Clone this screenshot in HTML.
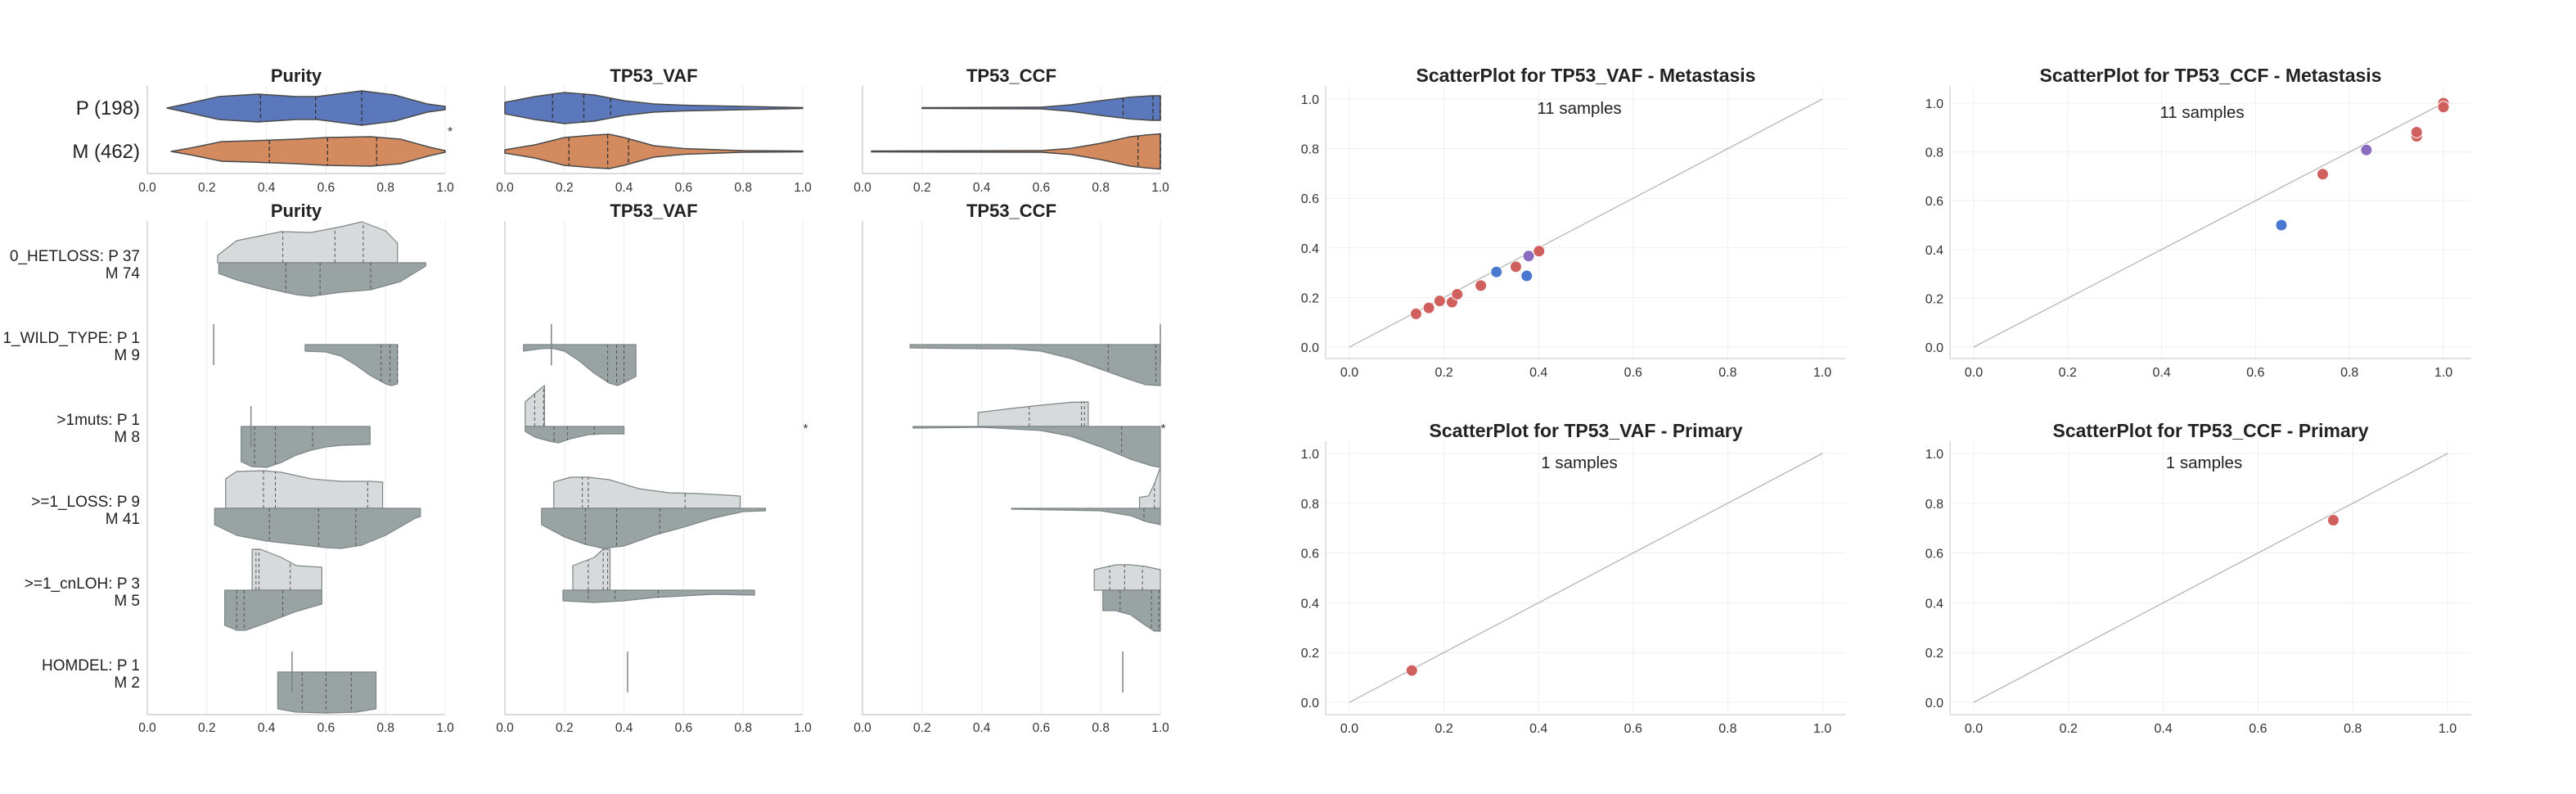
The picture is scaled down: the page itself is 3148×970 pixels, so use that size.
<!DOCTYPE html>
<html><head><meta charset="utf-8"><style>
body{margin:0;background:#fff}
svg{display:block;font-family:"Liberation Sans",sans-serif}
</style></head><body>
<svg id="chart" width="3148" height="970" viewBox="0 0 3148 970" xmlns="http://www.w3.org/2000/svg">
<g id="bg"></g>
</svg>
<script>
// ---------- DATA ----------
const ticks = [0, 0.2, 0.4, 0.6, 0.8, 1.0];
const tickLabels = ["0.0","0.2","0.4","0.6","0.8","1.0"];
const topTitles = ["Purity","TP53_VAF","TP53_CCF"];
const topGroups = ["P (198)","M (462)"];
const topPurityP_x = [0.066,0.13,0.24,0.37,0.5,0.57,0.72,0.83,0.94,1.0];
const topPurityP_h = [0,5,14,17,14,14,21,16,5,2];
const topPurityP_q = [0.38,0.565,0.72];
const topPurityM_x = [0.08,0.15,0.25,0.35,0.5,0.6,0.75,0.85,0.95,1.0];
const topPurityM_h = [0,4.5,12,13,15,17,18,15,5,1];
const topPurityM_q = [0.41,0.605,0.77];
const topVafP_x = [0,0.1,0.2,0.3,0.4,0.5,0.6,0.8,1.0];
const topVafP_h = [7,14,19,16,9,5,3.5,2,0.5];
const topVafP_q = [0.16,0.265,0.355];
const topVafM_x = [0,0.1,0.2,0.3,0.35,0.4,0.5,0.6,0.8,1.0];
const topVafM_h = [2,8,17,20,21,17,7,3.5,1,0.5];
const topVafM_q = [0.215,0.345,0.415];
const topCcfP_x = [0.2,0.6,0.7,0.8,0.9,0.97,1.0];
const topCcfP_h = [0.5,1,4,9,13.4,15,15];
const topCcfP_q = [0.875,0.975,1.0];
const topCcfM_x = [0.03,0.6,0.7,0.8,0.9,0.95,1.0];
const topCcfM_h = [0.5,1,3.7,10,18,20,21.5];
const topCcfM_q = [0.925,1.0,1.0];

const rowLabels1 = ["0_HETLOSS: P 37","1_WILD_TYPE: P 1",">1muts: P 1",">=1_LOSS: P 9",">=1_cnLOH: P 3","HOMDEL: P 1"];
const rowLabels2 = ["M 74","M 9","M 8","M 41","M 5","M 2"];

const s_hetP_pur_x=[0.236,0.3,0.45,0.55,0.65,0.72,0.8,0.84], s_hetP_pur_h=[9,27,38,37,44,50,39,24], s_hetP_pur_q=[0.455,0.63,0.725];
const s_hetM_pur_x=[0.24,0.3,0.4,0.5,0.55,0.65,0.75,0.85,0.935], s_hetM_pur_h=[13,21,31,39,41,36,33,23,4], s_hetM_pur_q=[0.465,0.58,0.75];
const s_wtM_pur_x=[0.53,0.6,0.65,0.7,0.75,0.8,0.82,0.84], s_wtM_pur_h=[8,9,14,25,38,48,50,48], s_wtM_pur_q=[0.785,0.815,0.84];
const s_wtM_vaf_x=[0.0625,0.12,0.16,0.2,0.25,0.3,0.35,0.38,0.44], s_wtM_vaf_h=[8,5,4.5,8,20,35,47,50,39], s_wtM_vaf_q=[0.345,0.375,0.4];
const s_wtM_ccf_x=[0.16,0.4,0.5,0.6,0.7,0.8,0.9,0.95,1.0], s_wtM_ccf_h=[4,5,5,8,17,30,43,49,50], s_wtM_ccf_q=[0.825,0.985];
const s_muM_pur_x=[0.315,0.35,0.4,0.45,0.5,0.55,0.6,0.65,0.748], s_muM_pur_h=[43,49,50,44,35,29,25,23,22], s_muM_pur_q=[0.36,0.43,0.555];
const s_muP_vaf_x=[0.068,0.1,0.133], s_muP_vaf_h=[30,40,50], s_muP_vaf_q=[0.1,0.13];
const s_muM_vaf_x=[0.068,0.1,0.15,0.18,0.22,0.28,0.33,0.4], s_muM_vaf_h=[6,13,18,20,15,10,9,9], s_muM_vaf_q=[0.165,0.21,0.3];
const s_muP_ccf_x=[0.388,0.5,0.6,0.7,0.758], s_muP_ccf_h=[17,22,26,29.5,30], s_muP_ccf_q=[0.56,0.735,0.745];
const s_muM_ccf_x=[0.17,0.4,0.6,0.7,0.8,0.9,0.97,1.0], s_muM_ccf_h=[2,1,5,12,25,40,48,50], s_muM_ccf_q=[0.87];
const s_loP_pur_x=[0.263,0.3,0.39,0.45,0.55,0.65,0.75,0.79], s_loP_pur_h=[36,45,46,44,36,33,33,32], s_loP_pur_q=[0.39,0.43,0.74];
const s_loM_pur_x=[0.226,0.3,0.4,0.5,0.6,0.65,0.72,0.8,0.9,0.917], s_loM_pur_h=[20,33,40,44,48,49,45,33,12,10], s_loM_pur_q=[0.41,0.575,0.7];
const s_loP_vaf_x=[0.164,0.22,0.28,0.35,0.45,0.55,0.65,0.75,0.79], s_loP_vaf_h=[32,38,38,35,24,19,18,16,15], s_loP_vaf_q=[0.26,0.28,0.605];
const s_loM_vaf_x=[0.123,0.2,0.27,0.33,0.4,0.5,0.6,0.7,0.8,0.875], s_loM_vaf_h=[20,35,44,49,46,33,23,12,4,3], s_loM_vaf_q=[0.27,0.375,0.52];
const s_loP_ccf_x=[0.93,0.96,0.98,1.0], s_loP_ccf_h=[13.4,15,30,50], s_loP_ccf_q=[0.98];
const s_loM_ccf_x=[0.5,0.8,0.9,0.95,1.0], s_loM_ccf_h=[1,3,9,16,20], s_loM_ccf_q=[0.945];
const s_cnP_pur_x=[0.352,0.38,0.45,0.5,0.586], s_cnP_pur_h=[50,50,40,30,28], s_cnP_pur_q=[0.365,0.375,0.48];
const s_cnM_pur_x=[0.26,0.3,0.33,0.4,0.45,0.5,0.586], s_cnM_pur_h=[43,49,49,40,33,26,17], s_cnM_pur_q=[0.3,0.325,0.455];
const s_cnP_vaf_x=[0.228,0.3,0.33,0.353], s_cnP_vaf_h=[30,40,50,50], s_cnP_vaf_q=[0.28,0.33,0.345];
const s_cnM_vaf_x=[0.195,0.3,0.4,0.5,0.6,0.7,0.838], s_cnM_vaf_h=[13,15,13,9,7,5,6], s_cnM_vaf_q=[0.28,0.37,0.515];
const s_cnP_ccf_x=[0.778,0.85,0.9,0.95,1.0], s_cnP_ccf_h=[25,31,31,29,25], s_cnP_ccf_q=[0.83,0.88,0.94];
const s_cnM_ccf_x=[0.807,0.85,0.9,0.95,0.98,1.0], s_cnM_ccf_h=[25,25,30,43,50,50], s_cnM_ccf_q=[0.865,0.97,0.995];
const s_hoM_pur_x=[0.438,0.5,0.6,0.7,0.768], s_hoM_pur_h=[45,49,50,49,45], s_hoM_pur_q=[0.52,0.6,0.685];
const stickPanels=[0,1,2,0,0,1,2];
const stickRows  =[1,1,1,2,5,5,5];
const stickVals  =[0.223,0.156,1.0,0.348,0.486,0.412,0.874];

const scTitles=["ScatterPlot for TP53_VAF - Metastasis","ScatterPlot for TP53_CCF - Metastasis","ScatterPlot for TP53_VAF - Primary","ScatterPlot for TP53_CCF - Primary"];
const scCounts=["11 samples","11 samples","1 samples","1 samples"];
const sc1_x=[0.141,0.168,0.191,0.217,0.228,0.278,0.352,0.401,0.311,0.375,0.379];
const sc1_y=[0.134,0.158,0.186,0.181,0.213,0.248,0.324,0.387,0.303,0.287,0.367];
const sc1_c=["r","r","r","r","r","r","r","r","b","b","p"];
const sc2_x=[0.743,0.836,0.943,0.943,1.0,1.0,1.0,1.0,0.943,0.743,0.655];
const sc2_y=[0.709,0.808,0.881,0.864,1.0,0.984,1.0,0.984,0.881,0.709,0.5];
const sc2_c=["r","p","r","r","r","r","r","r","r","r","b"];
const sc3_x=[0.132], sc3_y=[0.128], sc3_c=["r"];
const sc4_x=[0.759], sc4_y=[0.732], sc4_c=["r"];

// ---------- DRAW ----------
const NS="http://www.w3.org/2000/svg";
const svg=document.getElementById('chart');
function mk(tag,attrs,parent){const e=document.createElementNS(NS,tag);for(const k in attrs)e.setAttribute(k,attrs[k]);(parent||svg).appendChild(e);return e;}
function txt(s,attrs,parent){const e=mk('text',attrs,parent);e.textContent=s;return e;}

const panelX0=[180,617,1054], panelW=364;
const px=(p,v)=>panelX0[p]+v*panelW;
const rowY=r=>321+r*100;
function interp(xs,hs,v){if(v<=xs[0])return hs[0];for(let i=1;i<xs.length;i++){if(v<=xs[i]){const t=(v-xs[i-1])/(xs[i]-xs[i-1]);return hs[i-1]+t*(hs[i]-hs[i-1]);}}return hs[hs.length-1];}

for(let p=0;p<3;p++){
  const g=mk('g',{});
  
  
  ticks.forEach(t=>{const l=mk('line',{x1:px(p,t),x2:px(p,t),y1:105,y2:212,stroke:'#ebebeb','stroke-width':1},g);});
  mk('line',{x1:px(p,0),x2:px(p,0),y1:105,y2:212,stroke:'#d0d0d0','stroke-width':1.5},g);
  mk('line',{x1:px(p,0),x2:px(p,1),y1:212,y2:212,stroke:'#d0d0d0','stroke-width':1.5},g);
  ticks.forEach((t,i)=>{const e=txt(tickLabels[i],{x:px(p,t),y:234,'text-anchor':'middle','font-size':15.5,fill:'#333'},g);});
  const tt=txt(topTitles[p],{x:px(p,0.5),y:100,'text-anchor':'middle','font-size':22,'font-weight':'bold',fill:'#222'},g);
  
}
topGroups.forEach((s,i)=>{const e=txt(s,{x:171,y:(i?185:132)+8,'text-anchor':'end','font-size':24,fill:'#222'});});

function fullViolin(p,cy,xs,hs,qs,fill,name){
  const g=mk('g',{});
  let d='M'+px(p,xs[0])+','+(cy-hs[0]);
  for(let i=1;i<xs.length;i++)d+=' L'+px(p,xs[i])+','+(cy-hs[i]);
  for(let i=xs.length-1;i>=0;i--)d+=' L'+px(p,xs[i])+','+(cy+hs[i]);
  mk('path',{d:d+'Z',fill:fill,stroke:'#4a4a4a','stroke-width':1.5,'stroke-linejoin':'round'},g);
  qs.forEach(q=>{const h=interp(xs,hs,q);mk('line',{x1:px(p,q),x2:px(p,q),y1:cy-h,y2:cy+h,stroke:'#333','stroke-width':1.3,'stroke-dasharray':'5,3'},g);});
}
const blue='#5a78bb', orange='#d38a5f';
fullViolin(0,132,topPurityP_x,topPurityP_h,topPurityP_q,blue,'violin-purity-p');
fullViolin(0,185,topPurityM_x,topPurityM_h,topPurityM_q,orange,'violin-purity-m');
fullViolin(1,132,topVafP_x,topVafP_h,topVafP_q,blue,'violin-vaf-p');
fullViolin(1,185,topVafM_x,topVafM_h,topVafM_q,orange,'violin-vaf-m');
fullViolin(2,132,topCcfP_x,topCcfP_h,topCcfP_q,blue,'violin-ccf-p');
fullViolin(2,185,topCcfM_x,topCcfM_h,topCcfM_q,orange,'violin-ccf-m');
{const e=txt('*',{x:px(0,1)+3,y:166,'font-size':16,fill:'#333'});}

for(let p=0;p<3;p++){
  const g=mk('g',{});
  
  
  ticks.forEach(t=>{const l=mk('line',{x1:px(p,t),x2:px(p,t),y1:270,y2:873,stroke:'#ebebeb','stroke-width':1},g);});
  mk('line',{x1:px(p,0),x2:px(p,0),y1:270,y2:873,stroke:'#d0d0d0','stroke-width':1.5},g);
  mk('line',{x1:px(p,0),x2:px(p,1),y1:873,y2:873,stroke:'#d0d0d0','stroke-width':1.5},g);
  ticks.forEach((t,i)=>{const e=txt(tickLabels[i],{x:px(p,t),y:894,'text-anchor':'middle','font-size':15.5,fill:'#333'},g);});
  const tt=txt(topTitles[p],{x:px(p,0.5),y:265,'text-anchor':'middle','font-size':22,'font-weight':'bold',fill:'#222'},g);
  
}
rowLabels1.forEach((s,r)=>{
  const a=txt(s,{x:171,y:rowY(r)-2,'text-anchor':'end','font-size':19,fill:'#222'});
  
  const b=txt(rowLabels2[r],{x:171,y:rowY(r)+19,'text-anchor':'end','font-size':19,fill:'#222'});
  
});
function half(p,r,side,xs,hs,qs,name){
  const cy=rowY(r), sg=side?1:-1;
  const g=mk('g',{});
  let d='M'+px(p,xs[0])+','+cy;
  for(let i=0;i<xs.length;i++)d+=' L'+px(p,xs[i])+','+(cy+sg*hs[i]);
  d+=' L'+px(p,xs[xs.length-1])+','+cy+'Z';
  mk('path',{d:d,fill:side?'#99a3a3':'#d6dada',stroke:'#7d8585','stroke-width':1.2,'stroke-linejoin':'round'},g);
  qs.forEach(q=>{const h=interp(xs,hs,q);mk('line',{x1:px(p,q),x2:px(p,q),y1:cy,y2:cy+sg*h,stroke:'#555','stroke-width':1,'stroke-dasharray':'4,3'},g);});
}
half(0,0,0,s_hetP_pur_x,s_hetP_pur_h,s_hetP_pur_q,'hetloss-purity-p');
half(0,0,1,s_hetM_pur_x,s_hetM_pur_h,s_hetM_pur_q,'hetloss-purity-m');
half(0,1,1,s_wtM_pur_x,s_wtM_pur_h,s_wtM_pur_q,'wildtype-purity-m');
half(1,1,1,s_wtM_vaf_x,s_wtM_vaf_h,s_wtM_vaf_q,'wildtype-vaf-m');
half(2,1,1,s_wtM_ccf_x,s_wtM_ccf_h,s_wtM_ccf_q,'wildtype-ccf-m');
half(0,2,1,s_muM_pur_x,s_muM_pur_h,s_muM_pur_q,'muts-purity-m');
half(1,2,0,s_muP_vaf_x,s_muP_vaf_h,s_muP_vaf_q,'muts-vaf-p');
half(1,2,1,s_muM_vaf_x,s_muM_vaf_h,s_muM_vaf_q,'muts-vaf-m');
half(2,2,0,s_muP_ccf_x,s_muP_ccf_h,s_muP_ccf_q,'muts-ccf-p');
half(2,2,1,s_muM_ccf_x,s_muM_ccf_h,s_muM_ccf_q,'muts-ccf-m');
half(0,3,0,s_loP_pur_x,s_loP_pur_h,s_loP_pur_q,'loss-purity-p');
half(0,3,1,s_loM_pur_x,s_loM_pur_h,s_loM_pur_q,'loss-purity-m');
half(1,3,0,s_loP_vaf_x,s_loP_vaf_h,s_loP_vaf_q,'loss-vaf-p');
half(1,3,1,s_loM_vaf_x,s_loM_vaf_h,s_loM_vaf_q,'loss-vaf-m');
half(2,3,0,s_loP_ccf_x,s_loP_ccf_h,s_loP_ccf_q,'loss-ccf-p');
half(2,3,1,s_loM_ccf_x,s_loM_ccf_h,s_loM_ccf_q,'loss-ccf-m');
half(0,4,0,s_cnP_pur_x,s_cnP_pur_h,s_cnP_pur_q,'cnloh-purity-p');
half(0,4,1,s_cnM_pur_x,s_cnM_pur_h,s_cnM_pur_q,'cnloh-purity-m');
half(1,4,0,s_cnP_vaf_x,s_cnP_vaf_h,s_cnP_vaf_q,'cnloh-vaf-p');
half(1,4,1,s_cnM_vaf_x,s_cnM_vaf_h,s_cnM_vaf_q,'cnloh-vaf-m');
half(2,4,0,s_cnP_ccf_x,s_cnP_ccf_h,s_cnP_ccf_q,'cnloh-ccf-p');
half(2,4,1,s_cnM_ccf_x,s_cnM_ccf_h,s_cnM_ccf_q,'cnloh-ccf-m');
half(0,5,1,s_hoM_pur_x,s_hoM_pur_h,s_hoM_pur_q,'homdel-purity-m');
stickVals.forEach((v,i)=>{
  const l=mk('line',{x1:px(stickPanels[i],v),x2:px(stickPanels[i],v),y1:rowY(stickRows[i])-25,y2:rowY(stickRows[i])+25,stroke:'#7d8585','stroke-width':1.5});
  
});
[[1,1.01,2],[2,1.01,2]].forEach(a=>{const e=txt('*',{x:px(a[0],a[1])-3,y:rowY(a[2])+7,'font-size':15,fill:'#333'});});

const scX0=[1649,2412,1649,2412], scXs=[578,574,578,579];
const scY0=[424,424,858,858], scYs=[303,298,304,304];
const scL=[1620,2383,1620,2383], scR=[2256,3020,2256,3020], scT=[105,105,539,539], scB=[438,438,873,873];
const scXs_data=[sc1_x,sc2_x,sc3_x,sc4_x], scYs_data=[sc1_y,sc2_y,sc3_y,sc4_y], scC_data=[sc1_c,sc2_c,sc3_c,sc4_c];
const colMap={r:'#d0605e',b:'#4a78d0',p:'#8a6bbe'};
for(let k=0;k<4;k++){
  const sx=v=>scX0[k]+v*scXs[k], sy=v=>scY0[k]-v*scYs[k];
  const g=mk('g',{});
  ticks.forEach((t,i)=>{
    mk('line',{x1:sx(t),x2:sx(t),y1:scT[k],y2:scB[k],stroke:'#efefef','stroke-width':1},g);
    mk('line',{x1:scL[k],x2:scR[k],y1:sy(t),y2:sy(t),stroke:'#efefef','stroke-width':1},g);
    const a=txt(tickLabels[i],{x:sx(t),y:scB[k]+22,'text-anchor':'middle','font-size':16,fill:'#333'},g);
    
    const b=txt(tickLabels[i],{x:scL[k]-8,y:sy(t)+6,'text-anchor':'end','font-size':16,fill:'#333'},g);
    
  });
  mk('line',{x1:scL[k],x2:scL[k],y1:scT[k],y2:scB[k],stroke:'#d8d8d8','stroke-width':1.5},g);
  mk('line',{x1:scL[k],x2:scR[k],y1:scB[k],y2:scB[k],stroke:'#d8d8d8','stroke-width':1.5},g);
  const diag=mk('line',{x1:sx(0),y1:sy(0),x2:sx(1),y2:sy(1),stroke:'#b5b5b5','stroke-width':1.3},g);
  
  const t=txt(scTitles[k],{x:(scL[k]+scR[k])/2,y:scT[k]-5,'text-anchor':'middle','font-size':23,'font-weight':'bold',fill:'#222'},g);
  
  const c=txt(scCounts[k],{x:sx(0.5)-8,y:sy(1)+18,'text-anchor':'middle','font-size':20.5,fill:'#222'},g);
  
  scXs_data[k].forEach((v,i)=>{
    const pt=mk('circle',{cx:sx(v),cy:sy(scYs_data[k][i]),r:7,fill:colMap[scC_data[k][i]],stroke:'#fff','stroke-width':1},g);
    
    
  });
}
</script>
</body></html>
